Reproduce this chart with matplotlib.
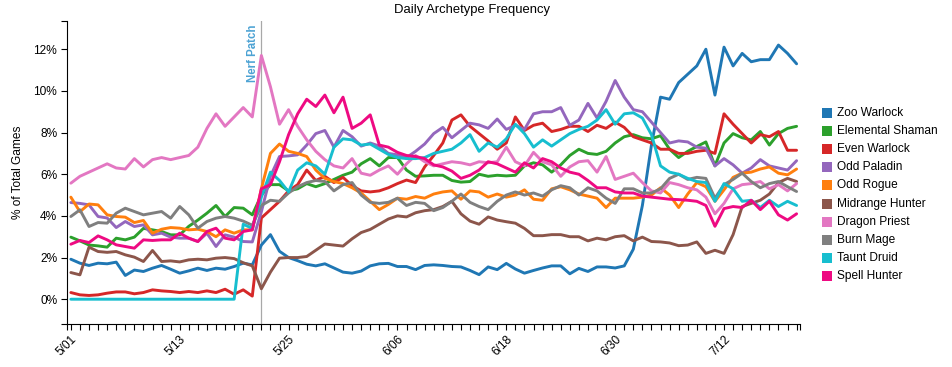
import matplotlib

matplotlib.use("Agg")

import matplotlib.dates as mdates
import matplotlib.pyplot as plt
import pandas as pd
from matplotlib.patches import Rectangle

plt.rcParams["font.family"] = ["Liberation Sans", "DejaVu Sans"]

start_date = "2018-05-01"
nerf_date = "2018-05-22"

archetypes = [
    "Zoo Warlock", "Elemental Shaman", "Even Warlock", "Odd Paladin", "Odd Rogue",
    "Midrange Hunter", "Dragon Priest", "Burn Mage", "Taunt Druid", "Spell Hunter",
]
colors = [
    "#1f77b4", "#2ca02c", "#d62728", "#9467bd", "#ff7f0e",
    "#8c564b", "#e377c2", "#7f7f7f", "#17becf", "#ee0a82",
]

# daily share of games, % (5/01 .. 7/20)
zoo_warlock = [
    1.92, 1.73, 1.62, 1.73, 1.70, 1.78, 1.14, 1.40, 1.33, 1.49,
    1.62, 1.44, 1.25, 1.36, 1.49, 1.38, 1.49, 1.44, 1.57, 1.73,
    1.65, 2.60, 3.10, 2.30, 2.00, 1.85, 1.68, 1.60, 1.70, 1.50,
    1.30, 1.25, 1.35, 1.60, 1.70, 1.72, 1.57, 1.57, 1.42, 1.62,
    1.65, 1.62, 1.57, 1.55, 1.38, 1.18, 1.55, 1.42, 1.72, 1.45,
    1.25, 1.38, 1.50, 1.60, 1.60, 1.22, 1.48, 1.33, 1.55, 1.55,
    1.50, 1.60, 2.40, 4.50, 7.40, 9.70, 9.60, 10.40, 10.80, 11.20,
    12.00, 9.80, 12.10, 11.20, 11.80, 11.40, 11.50, 11.50, 12.20, 11.80,
    11.30,
]
elemental_shaman = [
    2.98, 2.80, 2.60, 2.56, 2.50, 2.93, 2.85, 2.98, 3.40, 3.33,
    3.25, 3.09, 3.09, 3.50, 3.80, 4.13, 4.50, 3.97, 4.40, 4.37,
    4.05, 5.00, 5.50, 5.50, 5.20, 5.30, 5.55, 5.40, 5.55, 5.75,
    5.95, 6.10, 6.50, 6.75, 6.40, 6.80, 6.80, 6.20, 5.90, 5.92,
    5.95, 5.95, 5.70, 5.62, 5.65, 6.00, 5.90, 5.95, 5.92, 5.95,
    6.40, 6.55, 6.45, 6.10, 6.45, 6.90, 7.20, 7.00, 6.95, 7.10,
    7.50, 7.80, 7.90, 7.75, 7.70, 7.85, 7.20, 6.80, 7.10, 7.33,
    7.55, 6.40, 7.50, 7.95, 7.75, 7.65, 8.05, 7.40, 7.95, 8.20,
    8.30,
]
even_warlock = [
    0.32, 0.21, 0.18, 0.21, 0.29, 0.35, 0.35, 0.26, 0.32, 0.45,
    0.40, 0.37, 0.32, 0.37, 0.32, 0.40, 0.32, 0.48, 0.24, 0.45,
    0.15, 3.90, 4.30, 4.70, 5.20, 5.50, 6.20, 5.70, 5.90, 5.60,
    5.85, 5.45, 5.20, 5.15, 5.20, 5.35, 5.55, 5.72, 5.60, 6.35,
    6.90, 7.50, 8.60, 8.85, 8.30, 7.95, 7.60, 7.20, 7.50, 8.75,
    8.10, 8.35, 8.45, 8.05, 8.15, 8.30, 8.30, 8.05, 8.35, 8.20,
    8.50, 8.25, 7.80, 7.65, 7.50, 7.20, 7.20, 7.00, 7.00, 7.10,
    7.15, 7.00, 8.90, 8.40, 7.95, 7.50, 7.90, 7.80, 8.05, 7.15,
    7.15,
]
odd_paladin = [
    4.64, 4.60, 4.53, 3.97, 3.90, 3.44, 3.73, 3.49, 3.57, 3.09,
    3.17, 2.98, 2.93, 2.93, 2.77, 3.17, 2.53, 3.09, 2.98, 2.77,
    2.75, 4.20, 5.90, 6.85, 6.88, 6.93, 7.40, 7.95, 8.10, 7.30,
    8.10, 7.80, 7.35, 7.50, 7.35, 7.00, 6.93, 6.80, 7.10, 7.45,
    7.95, 8.25, 7.75, 8.10, 8.45, 8.37, 8.20, 8.65, 8.15, 8.35,
    8.15, 8.90, 9.00, 9.00, 9.20, 8.35, 8.60, 9.40, 8.70, 9.50,
    10.50, 9.70, 9.10, 9.00, 8.50, 8.00, 7.50, 7.60, 7.55, 7.30,
    7.25, 6.40, 6.75, 6.45, 6.05, 6.30, 6.70, 6.40, 6.30, 6.20,
    6.65,
]
odd_rogue = [
    4.90, 4.20, 4.57, 4.53, 4.05, 3.97, 3.94, 3.68, 3.78, 3.17,
    3.36, 3.44, 3.41, 3.33, 3.36, 3.25, 3.00, 3.33, 3.17, 3.33,
    3.33, 5.30, 7.00, 7.45, 7.10, 7.00, 6.85, 6.20, 5.80, 5.65,
    5.55, 5.35, 5.10, 4.70, 4.30, 4.55, 4.85, 4.80, 4.93, 4.85,
    5.05, 5.15, 5.20, 4.80, 5.20, 5.15, 4.90, 5.05, 4.90, 5.00,
    5.25, 4.80, 4.75, 5.30, 5.40, 5.25, 5.05, 4.95, 4.85, 4.40,
    4.85, 4.85, 4.85, 4.90, 5.00, 5.35, 5.00, 4.40, 5.05, 5.60,
    5.40, 4.70, 5.25, 5.85, 6.05, 6.10, 6.25, 6.35, 6.05, 5.97,
    6.25,
]
midrange_hunter = [
    1.28, 1.17, 2.50, 2.29, 2.25, 2.29, 2.13, 2.02, 1.81, 2.34,
    1.81, 1.84, 1.79, 1.89, 1.92, 1.89, 1.97, 2.00, 1.95, 1.75,
    1.60, 0.50, 1.30, 1.97, 2.00, 2.00, 2.05, 2.35, 2.65, 2.60,
    2.55, 2.90, 3.20, 3.35, 3.60, 3.85, 4.00, 3.95, 4.15, 4.25,
    4.30, 4.45, 4.70, 4.10, 3.75, 3.60, 3.95, 3.80, 3.72, 3.65,
    3.40, 3.05, 3.05, 3.10, 3.10, 3.00, 3.00, 2.80, 2.93, 2.85,
    3.00, 3.05, 2.80, 2.98, 2.77, 2.75, 2.70, 2.57, 2.60, 2.75,
    2.20, 2.35, 2.20, 3.10, 4.45, 4.60, 4.75, 5.05, 5.60, 5.80,
    5.65,
]
dragon_priest = [
    5.57, 5.90, 6.10, 6.30, 6.50, 6.30, 6.25, 6.75, 6.35, 6.70,
    6.80, 6.70, 6.80, 6.90, 7.30, 8.20, 8.90, 8.30, 8.75, 9.20,
    8.75, 11.70, 10.20, 8.40, 9.10, 8.30, 7.65, 7.10, 6.70, 6.40,
    6.30, 6.75, 6.05, 5.95, 6.20, 6.40, 6.00, 6.50, 6.90, 6.60,
    6.40, 6.50, 6.60, 6.55, 6.45, 6.60, 6.55, 6.60, 7.30, 6.60,
    6.40, 7.05, 6.60, 6.45, 5.90, 6.35, 6.60, 6.65, 6.10, 6.85,
    5.75, 5.90, 6.05, 5.60, 5.20, 5.10, 5.60, 5.50, 5.35, 5.25,
    4.90, 4.10, 4.60, 5.30, 5.50, 5.55, 5.65, 5.30, 5.50, 5.20,
    5.55,
]
burn_mage = [
    3.97, 4.29, 3.49, 3.68, 3.65, 4.13, 4.37, 4.21, 4.05, 4.13,
    4.21, 3.89, 4.45, 4.05, 3.41, 3.73, 3.89, 3.97, 3.89, 3.75,
    3.55, 4.50, 4.75, 4.70, 5.10, 5.40, 5.60, 5.70, 5.65, 5.20,
    5.50, 5.60, 5.00, 4.65, 4.60, 4.65, 4.85, 4.50, 4.65, 4.60,
    4.25, 4.40, 4.70, 5.05, 4.65, 4.45, 4.30, 4.70, 5.00, 5.15,
    5.00, 5.10, 4.95, 5.25, 5.45, 5.35, 5.00, 5.35, 5.20, 4.85,
    4.60, 5.30, 5.30, 5.10, 5.10, 5.30, 5.80, 6.00, 5.75, 5.85,
    5.80, 4.85, 5.50, 5.75, 6.05, 5.65, 5.35, 5.55, 5.65, 5.40,
    5.17,
]
taunt_druid = [
    0.00, 0.00, 0.00, 0.00, 0.00, 0.00, 0.00, 0.00, 0.00, 0.00,
    0.00, 0.00, 0.00, 0.00, 0.00, 0.00, 0.00, 0.00, 0.00, 3.60,
    3.40, 4.90, 6.10, 5.70, 5.15, 6.20, 6.55, 6.40, 6.00, 7.30,
    7.70, 7.65, 7.40, 7.45, 7.20, 6.95, 6.80, 6.75, 6.75, 6.80,
    7.00, 7.10, 7.20, 7.50, 7.90, 7.10, 7.50, 7.30, 7.70, 8.40,
    7.95, 7.30, 7.65, 7.35, 7.65, 7.95, 8.15, 8.30, 8.60, 9.10,
    8.40, 8.90, 8.95, 8.70, 7.90, 6.40, 6.10, 6.00, 5.80, 5.65,
    5.60, 4.70, 5.55, 5.30, 4.70, 4.75, 4.40, 4.75, 4.45, 4.70,
    4.50,
]
spell_hunter = [
    2.64, 2.82, 2.72, 3.04, 2.85, 2.61, 2.53, 2.45, 2.85, 2.82,
    2.85, 2.85, 3.17, 2.93, 2.77, 3.25, 3.41, 2.93, 2.85, 3.25,
    3.33, 5.30, 5.50, 6.60, 7.90, 8.90, 9.60, 9.25, 9.80, 8.95,
    9.70, 8.20, 8.45, 8.85, 7.40, 7.30, 7.05, 6.90, 6.85, 6.75,
    6.45, 6.35, 6.15, 5.80, 5.95, 6.20, 6.60, 6.50, 6.30, 6.10,
    6.55, 6.30, 6.75, 6.60, 6.30, 6.10, 6.00, 5.70, 5.35, 5.35,
    5.15, 5.10, 5.10, 4.95, 4.90, 4.85, 4.80, 4.78, 4.75, 4.70,
    4.50, 3.50, 4.35, 4.45, 4.40, 4.75, 4.30, 4.70, 4.05, 3.80,
    4.10,
]

series = [
    zoo_warlock, elemental_shaman, even_warlock, odd_paladin, odd_rogue,
    midrange_hunter, dragon_priest, burn_mage, taunt_druid, spell_hunter,
]

W, H = 952, 367


def main() -> None:
    dates = pd.date_range(start_date, periods=len(zoo_warlock), freq="D")
    nerf = pd.Timestamp(nerf_date)

    fig = plt.figure(figsize=(W / 100, H / 100), dpi=100)
    ax = fig.add_axes([66.7 / W, 1 - 324 / H, (800 - 66.7) / W, (324 - 20.7) / H])

    ax.axvline(nerf, color="#a8a8a8", lw=0.9, zorder=1)
    for name, color, values in zip(archetypes, colors, series):
        ax.plot(dates, values, color=color, lw=2.1, label=name,
                solid_joinstyle="round", solid_capstyle="round", zorder=2)

    x0 = dates[0] - pd.Timedelta(hours=11)
    x1 = dates[-1] + pd.Timedelta(hours=9)
    ax.set_xlim(x0, x1)
    ax.set_ylim(-1.19, 13.37)

    ax.set_xticks(dates)
    ax.set_xticklabels([f"{d.month}/{d.day:02d}" if i % 12 == 0 else "" for i, d in enumerate(dates)])
    plt.setp(ax.get_xticklabels(), rotation=45, ha="right", rotation_mode="anchor")
    ax.set_yticks(range(0, 13, 2))
    ax.set_yticklabels([f"{v}%" for v in range(0, 13, 2)])

    # d3-style outer ticks at the ends of the axes
    ax.set_xticks([mdates.date2num(x0), mdates.date2num(x1)], minor=True)
    ax.set_yticks([-1.19, 13.37], minor=True)

    ax.tick_params(axis="both", which="both", length=4.3, width=0.8, color="black",
                   labelsize=8.6, pad=2.5, direction="out")
    for side in ("top", "right"):
        ax.spines[side].set_visible(False)
    for side in ("left", "bottom"):
        ax.spines[side].set_linewidth(0.8)

    ax.set_ylabel("% of Total Games", fontsize=8.6, labelpad=6.5)

    ax.annotate("Nerf Patch", xy=(nerf, 1), xycoords=("data", "axes fraction"),
                xytext=(-2, -2.5), textcoords="offset points", rotation=90,
                ha="right", va="top", color="#4da3d4", fontweight="bold", fontsize=8.3)

    fig.text(472 / W, 1 - 10.5 / H, "Daily Archetype Frequency", ha="center", va="center",
             fontsize=9.4)

    for i, (name, color) in enumerate(zip(archetypes, colors)):
        yc = 113.3 + 18.04 * i
        fig.patches.append(Rectangle((822 / W, 1 - (yc + 5) / H), 10 / W, 10 / H,
                                     transform=fig.transFigure, facecolor=color,
                                     edgecolor="none"))
        fig.text(837 / W, 1 - yc / H, name, ha="left", va="center", fontsize=8.6)

    fig.savefig("out.png", dpi=100)
    plt.close(fig)


if __name__ == "__main__":
    main()
